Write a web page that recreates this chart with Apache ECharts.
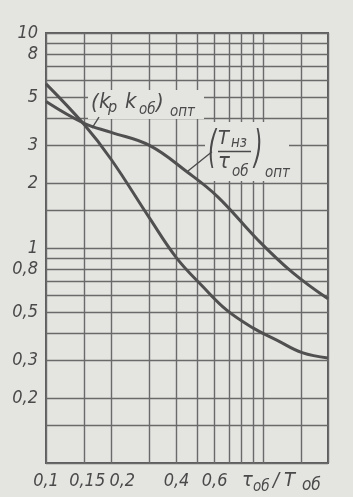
<!DOCTYPE html>
<html><head><meta charset="utf-8">
<script src="https://cdn.jsdelivr.net/npm/echarts@6/dist/echarts.min.js"></script>
<style>html,body{margin:0;padding:0;background:#e4e4e1;} #c{width:353px;height:497px;}</style>
</head><body><div id="c"></div>
<script>
// ---- data ----
const xGridValues = [0.1, 0.15, 0.2, 0.3, 0.4, 0.5, 0.6, 0.7, 0.8, 0.9, 1, 1.5, 2];
const xLabelValues = [0.1, 0.15, 0.2, 0.4, 0.6];
const yGridValues = [0.1, 0.15, 0.2, 0.3, 0.4, 0.5, 0.6, 0.7, 0.8, 0.9, 1, 1.5, 2, 3, 4, 5, 6, 7, 8, 9, 10];
const yLabelValues = [0.2, 0.3, 0.5, 0.8, 1, 2, 3, 5, 8, 10];

const kpX = [0.1, 0.15, 0.2, 0.3, 0.4, 0.53, 0.68, 0.9, 1.16, 1.52, 2.0];
const kpY = [5.8, 3.75, 2.58, 1.38, 0.9, 0.66, 0.515, 0.425, 0.373, 0.326, 0.308];

const tnX = [0.1, 0.15, 0.2, 0.3, 0.45, 0.62, 0.95, 1.37, 2.0];
const tnY = [4.8, 3.8, 3.45, 3.0, 2.25, 1.73, 1.09, 0.77, 0.58];

// leader lines (data coordinates)
const leaderKp = [[0.1756, 4.06], [0.163, 3.61]];
const leaderTn = [[0.583, 2.80], [0.452, 2.28]];

// ---- style ----
const BG = '#e4e4e1';
const INK = '#4a4a4a';
const GRIDC = '#6a6a6a';
const CURVE = '#505050';
const FAMILY = "'DejaVu Sans Condensed','Liberation Sans Narrow','DejaVu Sans',sans-serif";

const fmt = v => String(+(+v).toPrecision(3)).replace('.', ',');
const near = (a, b) => Math.abs(a - b) < 1e-6;
const labFont = {fontStyle: 'italic', fontSize: 18, fontFamily: FAMILY, color: INK};

const chart = echarts.init(document.getElementById('c'), null, {renderer: 'canvas'});
const option = {
  backgroundColor: BG,
  animation: false,
  grid: {left: 46, right: 25, top: 33, bottom: 34, show: true, borderColor: '#5e5e5e', borderWidth: 2, backgroundColor: 'transparent'},
  xAxis: {
    type: 'log', logBase: 10, min: 0.1, max: 2,
    axisLine: {show: false},
    axisTick: {show: false, customValues: xGridValues},
    splitLine: {show: true, lineStyle: {color: GRIDC, width: 1.4}},
    axisLabel: {
      customValues: xLabelValues, margin: 9,
      formatter: v => {
        const s = fmt(v);
        if (near(v, 0.2)) return '{r2|' + s + '}';
        if (near(v, 0.15)) return '{r1|' + s + '}';
        return '{n|' + s + '}';
      },
      rich: {
        n: Object.assign({}, labFont),
        r1: Object.assign({padding: [0, 0, 0, 6]}, labFont),
        r2: Object.assign({padding: [0, 0, 0, 22]}, labFont)
      },
      ...labFont
    }
  },
  yAxis: {
    type: 'log', logBase: 10, min: 0.1, max: 10,
    axisLine: {show: false},
    axisTick: {show: false, customValues: yGridValues},
    splitLine: {show: true, lineStyle: {color: GRIDC, width: 1.4}},
    axisLabel: Object.assign({customValues: yLabelValues, margin: 8, formatter: v => fmt(v)}, labFont)
  },
  series: [
    {type: 'line', name: 'kp', data: kpX.map((x, i) => [x, kpY[i]]), showSymbol: false, smooth: 0.4,
     lineStyle: {color: CURVE, width: 3}, z: 5},
    {type: 'line', name: 'tn', data: tnX.map((x, i) => [x, tnY[i]]), showSymbol: false, smooth: 0.4,
     lineStyle: {color: CURVE, width: 3}, z: 5}
  ]
};
chart.setOption(option);

// ---- annotations ----
const o = chart.convertToPixel({gridIndex: 0}, [0.1, 10]); // plot top-left
const ox = o[0], oy = o[1];
function txt(t, x, base, size, sx) {
  return {type: 'text', x: ox + x, y: oy + base - 0.35 * size, scaleX: sx || 1, z: 60,
          style: {text: t, fill: INK, font: 'italic ' + size + 'px ' + FAMILY, verticalAlign: 'middle', align: 'left'}};
}
function rect(x, y, w, h) {
  return {type: 'rect', z: 50, shape: {x: ox + x, y: oy + y, width: w, height: h}, style: {fill: BG}};
}
function leader(pts) {
  const a = chart.convertToPixel({gridIndex: 0}, pts[0]);
  const b = chart.convertToPixel({gridIndex: 0}, pts[1]);
  return {type: 'line', z: 60, shape: {x1: a[0], y1: a[1], x2: b[0], y2: b[1]}, style: {stroke: INK, lineWidth: 1.3}};
}
// offsets relative to plot origin
const g = [
  rect(42, 57, 116, 29),
  txt('(', 45, 78, 22),
  txt('k', 53, 77, 22),
  txt('p', 62, 80, 16),
  txt('k', 79, 77, 22),
  txt('об', 93, 82, 15),
  txt(')', 110, 78, 22),
  txt('опт', 124, 84, 15),
  leader(leaderKp),

  rect(159, 89, 84, 59),
  txt('(', 162, 133, 44, 0.55),
  txt('T', 172, 113, 20),
  txt('нз', 185, 115, 15),
  {type: 'line', z: 60, shape: {x1: ox + 172, y1: oy + 118.5, x2: ox + 205, y2: oy + 118.5}, style: {stroke: INK, lineWidth: 1.5}},
  txt('τ', 172, 137, 22),
  txt('об', 186, 144, 15),
  txt(')', 208, 133, 44, 0.55),
  txt('опт', 219, 145, 15),
  leader(leaderTn),

  // axis title
  txt('τ', 196, 455, 20),
  txt('об', 207, 459, 15),
  txt('/', 227, 455, 20),
  txt('T', 238, 455, 20),
  txt('об', 256, 459, 17)
];
chart.setOption({graphic: g});
</script></body></html>
